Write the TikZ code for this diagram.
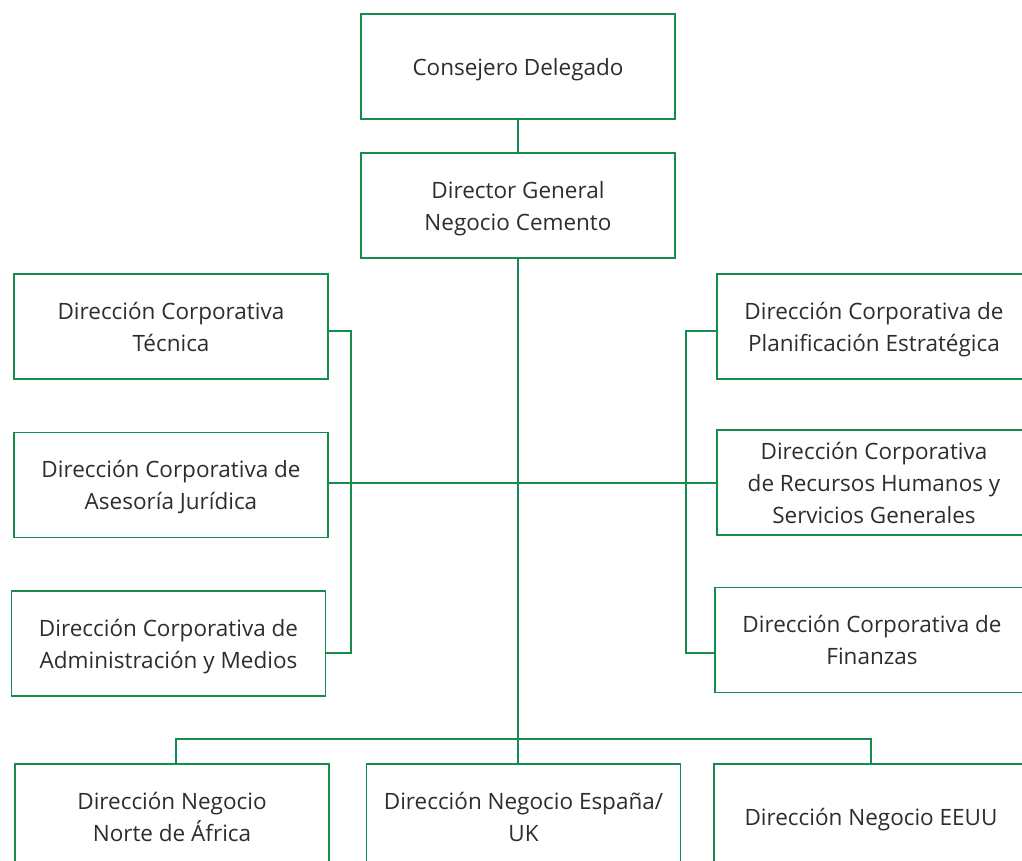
\documentclass[tikz,border=0pt]{standalone}
\usepackage{fontspec}
\setmainfont{Open Sans}
\definecolor{orggreen}{RGB}{20,140,75}
\definecolor{orgtext}{RGB}{45,45,45}

\tikzset{
  unit/.style={draw=orggreen, line width=1.5pt, minimum width=314pt,
    minimum height=105pt, inner sep=0pt, align=center, text=orgtext,
    text depth=0pt, font=\fontsize{22.5}{32}\selectfont},
  link/.style={draw=orggreen, line width=1.4pt}
}

\begin{document}
\begin{tikzpicture}[x=1pt,y=-1pt]
  \useasboundingbox (0,0) rectangle (1022,861);
  \clip (0,0) rectangle (1022,861);
  % Top of the chart
  \node[unit] (ceo) at (518,66.5) {Consejero Delegado};
  \node[unit] (dgc) at (518,205.5) {Director General\\Negocio Cemento};
  % Corporate units, left column
  \node[unit] (tec) at (171,326.5) {Dirección Corporativa\\Técnica};
  \node[unit] (jur) at (171,485) {Dirección Corporativa de\\Asesoría Jurídica};
  \node[unit] (adm) at (168.5,643.5) {Dirección Corporativa de\\Administración y Medios};
  % Corporate units, right column
  \node[unit] (pla) at (874,326.5) {Dirección Corporativa de\\Planificación Estratégica};
  \node[unit] (rrh) at (874,482.5) {Dirección Corporativa\\de Recursos Humanos y\\Servicios Generales};
  \node[unit] (fin) at (872,640) {Dirección Corporativa de\\Finanzas};
  % Business units
  \node[unit] (nor) at (172,816.5) {Dirección Negocio\\Norte de África};
  \node[unit] (esp) at (523.5,816.5) {Dirección Negocio España/\\UK};
  \node[unit] (usa) at (871,816.5) {Dirección Negocio EEUU};
  % Bus points
  \coordinate (lbusT) at (351,331);
  \coordinate (lbusM) at (351,483);
  \coordinate (lbusB) at (351,653);
  \coordinate (rbusT) at (686,331);
  \coordinate (rbusB) at (686,653);
  \coordinate (bbus) at (518,739);
  \coordinate (nbus) at (176,739);
  % Connectors
  \draw[link] (ceo) -- (dgc);
  \draw[link] (dgc) -- (bbus) -- (bbus |- esp.north);
  \draw[link] (lbusM) -- (rrh.west |- lbusM);
  \draw[link] (lbusM) -- (jur.east |- lbusM);
  \draw[link] (tec.east |- lbusT) -- (lbusT) -- (lbusB) -- (adm.east |- lbusB);
  \draw[link] (pla.west |- rbusT) -- (rbusT) -- (rbusB) -- (fin.west |- rbusB);
  \draw[link] (nbus |- nor.north) -- (nbus) -- (bbus) -| (usa.north);
\end{tikzpicture}
\end{document}
